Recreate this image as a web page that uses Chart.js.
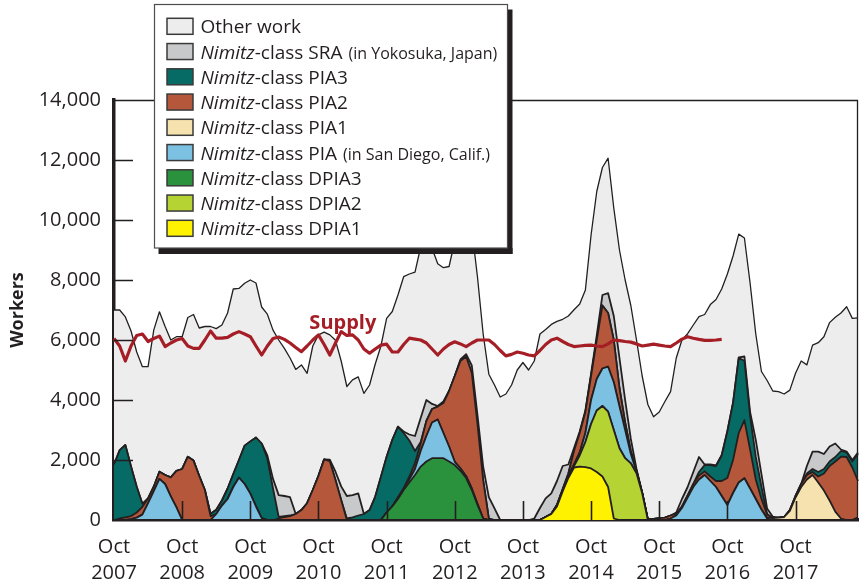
<!DOCTYPE html>
<html>
<head>
<meta charset="utf-8">
<script src="https://cdn.jsdelivr.net/npm/chart.js@4.4.1/dist/chart.umd.min.js"></script>
<style>
  html, body { margin: 0; padding: 0; background: #ffffff; }
  #wrap { width: 859px; height: 583px; position: relative; }
</style>
</head>
<body>
<div id="wrap"><canvas id="c" width="859" height="583"></canvas></div>
<script>
// ---------- categories / tick labels ----------
const monthNames = ['Oct','Nov','Dec','Jan','Feb','Mar','Apr','May','Jun','Jul','Aug','Sep'];
const tickYears = ['2007','2008','2009','2010','2011','2012','2013','2014','2015','2016','2017'];
const yTickValues = [0, 2000, 4000, 6000, 8000, 10000, 12000, 14000];

// ---------- series values (one row = Oct..Sep of one year) ----------
const totalWorkers = [
  7000, 7000, 6770, 6300, 5600, 5110, 5110, 6330, 6940, 6450, 6000, 6110,
  6110, 6750, 6850, 6400, 6450, 6450, 6380, 6500, 6900, 7700, 7720, 7890,
  8000, 7900, 7100, 6860, 6330, 6000, 5720, 5400, 5020, 5170, 4890, 5800,
  6170, 6260, 6170, 5990, 5300, 4450, 4670, 4770, 4220, 4500, 5200, 5800,
  6720, 6950, 7500, 8110, 8200, 8260, 9100, 9530, 9060, 8540, 8410, 8450,
  9300, 9980, 10310, 9700, 8100, 6200, 4860, 4500, 4100, 4200, 4500, 5000,
  5250, 5000, 5300, 6200, 6350, 6520, 6620, 6690, 6800, 7010, 7200, 7670,
  9500, 10950, 11750, 12060, 10400, 9000, 8000, 7150, 6000, 4800, 3850, 3440,
  3600, 3950, 4280, 5400, 6000, 6210, 6500, 6780, 6850, 7180, 7350, 7700,
  8200, 8800, 9530, 9400, 7900, 6200, 4950, 4650, 4300, 4280, 4200, 4330,
  4890, 5300, 5170, 5830, 5910, 6110, 6580, 6760, 6900, 7110, 6720, 6740
];
const supply = [
  6050, 5800, 5300, 5800, 6150, 6200, 5950, 6050, 6130, 5780, 5900, 6000,
  6050, 5800, 5720, 5720, 6000, 6300, 6060, 6060, 6090, 6200, 6280, 6200,
  6110, 5800, 5500, 5800, 6050, 6100, 6020, 5900, 5750, 5610, 5800, 6000,
  6170, 5850, 5500, 5900, 6280, 6150, 6170, 6000, 5700, 5560, 5700, 5830,
  5860, 5600, 5600, 5850, 6060, 6030, 6000, 5900, 5700, 5500, 5700, 5850,
  5940, 5870, 5780, 5900, 6000, 6000, 6000, 5850, 5650, 5470, 5520, 5600,
  5560, 5500, 5470, 5650, 5850, 6000, 6060, 5950, 5850, 5780, 5800, 5820,
  5830, 5800, 5780, 5870, 6000, 5980, 5950, 5930, 5870, 5800, 5830, 5860,
  5830, 5800, 5780, 5900, 6030, 6110, 6060, 6020, 5990, 5990, 6000, 6020,
  null, null, null, null, null, null, null, null, null, null, null, null,
  null, null, null, null, null, null, null, null, null, null, null, null
];
const dpia1 = [
  0,0,0,0,0,0,0,0,0,0,0,0,
  0,0,0,0,0,0,0,0,0,0,0,0,
  0,0,0,0,0,0,0,0,0,0,0,0,
  0,0,0,0,0,0,0,0,0,0,0,0,
  0,0,0,0,0,0,0,0,0,0,0,0,
  0,0,0,0,0,0,0,0,0,0,0,0,
  0,0,0,0,100,200,450,950,1400,1750,1780,1760,
  1720,1600,1450,1100,50,0,0,0,0,0,0,0,
  0,0,0,0,0,0,0,0,0,0,0,0,
  0,0,0,0,0,0,0,0,0,0,0,0,
  0,0,0,0,0,0,0,0,0,0,0,0
];
const dpia2 = [
  0,0,0,0,0,0,0,0,0,0,0,0,
  0,0,0,0,0,0,0,0,0,0,0,0,
  0,0,0,0,0,0,0,0,0,0,0,0,
  0,0,0,0,0,0,0,0,0,0,0,0,
  0,0,0,0,0,0,0,0,0,0,0,0,
  0,0,0,0,0,0,0,0,0,0,0,0,
  0,0,0,0,0,0,20,30,50,50,370,840,
  1480,2050,2350,2510,2950,2390,2060,1890,1560,890,0,0,
  0,0,0,0,0,0,0,0,0,0,0,0,
  0,0,0,0,0,0,0,0,0,0,0,0,
  0,0,0,0,0,0,0,0,0,0,0,0
];
const dpia3 = [
  0,0,0,0,0,0,0,0,0,0,0,0,
  0,0,0,0,0,0,0,0,0,0,0,0,
  0,0,0,0,0,0,0,0,0,0,0,0,
  0,0,0,0,0,0,0,0,0,0,0,0,
  250,450,700,1000,1250,1500,1780,1950,2060,2060,2060,1950,
  1830,1640,1400,1000,500,50,0,0,0,0,0,0,
  0,0,0,0,0,0,0,0,0,0,0,0,
  0,0,0,0,0,0,0,0,0,0,0,0,
  0,0,0,0,0,0,0,0,0,0,0,0,
  0,0,0,0,0,0,0,0,0,0,0,0,
  0,0,0,0,0,0,0,0,0,0,0,0
];
const pia = [
  0,0,0,30,80,180,560,960,1370,1200,790,420,
  0,0,0,0,0,0,200,480,700,1100,1410,1200,
  880,450,60,0,0,0,0,0,0,0,0,0,
  0,0,0,0,0,0,0,0,0,0,0,0,
  0,0,50,50,100,200,520,850,1190,1290,840,500,
  110,80,60,50,40,0,0,0,0,0,0,0,
  0,0,0,0,0,0,20,20,30,50,100,300,
  800,1050,1250,1500,1590,1400,940,310,50,10,0,0,
  0,0,50,150,400,750,1100,1350,1500,1300,1100,800,
  500,900,1250,1390,1050,700,350,50,0,0,0,0,
  0,0,0,0,0,0,0,0,0,0,0,80
];
const pia1 = [
  0,0,0,0,0,0,0,0,0,0,0,0,
  0,0,0,0,0,0,0,0,0,0,0,0,
  0,0,0,0,0,0,0,0,0,0,0,0,
  0,0,0,0,0,0,0,0,0,0,0,0,
  0,0,0,0,0,0,0,0,0,0,0,0,
  0,0,0,0,0,0,0,0,0,0,0,0,
  0,0,0,0,0,0,0,0,0,0,0,0,
  0,0,0,0,0,0,0,0,0,0,0,0,
  0,0,0,0,0,0,0,0,0,0,0,0,
  0,0,0,0,0,0,0,30,60,80,100,300,
  750,1100,1350,1500,1250,980,650,280,50,0,0,0
];
const pia2 = [
  0,50,90,100,170,260,160,150,240,300,630,1220,
  1700,2110,1980,1470,1000,130,0,0,0,0,0,0,
  0,0,0,0,0,50,100,130,200,330,560,1000,
  1470,2020,1960,1330,670,0,0,0,0,0,0,0,
  0,0,0,0,100,200,250,500,450,430,1000,1850,
  2860,3580,3990,3850,2660,1280,50,0,0,0,0,0,
  0,0,0,0,0,0,20,30,70,450,650,700,
  800,1300,2100,1790,1410,610,250,100,40,10,20,40,
  60,80,100,50,50,70,100,130,120,150,200,500,
  900,1100,1650,1940,1300,650,350,100,0,0,0,30,
  50,100,150,100,200,570,1150,1670,2060,2100,1750,1220
];
const pia3 = [
  1850,2280,2410,1650,860,100,0,0,0,0,0,0,
  0,0,0,0,0,80,140,170,350,430,590,1280,
  1740,2300,2490,2050,1050,50,30,20,0,0,0,0,
  0,0,0,0,0,50,90,150,200,330,780,1440,
  1860,2220,2360,1850,1200,400,50,0,0,0,0,0,
  0,0,0,0,0,0,0,0,0,0,0,0,
  0,0,0,0,0,0,0,0,0,0,0,0,
  0,0,0,0,0,0,0,0,0,0,0,0,
  0,0,0,0,0,0,0,120,210,380,500,850,
  1550,1900,2500,1980,1120,760,410,20,0,0,0,0,
  0,0,50,100,150,150,150,150,190,150,200,900
];
const sra = [
  0,0,0,0,0,0,0,0,0,0,0,0,
  0,0,0,0,0,0,0,0,0,0,0,0,
  0,0,0,100,320,730,670,610,0,0,0,0,
  0,0,50,280,450,750,740,740,0,0,0,0,
  0,0,0,50,200,500,800,700,170,20,50,0,
  0,50,80,250,300,450,710,390,0,0,0,0,
  0,0,50,400,620,690,790,770,300,100,50,50,
  80,150,350,660,800,1000,750,400,50,0,0,0,
  0,0,0,50,250,280,400,500,20,20,20,20,
  20,20,20,140,130,560,420,180,50,0,0,0,
  0,0,250,580,680,500,500,450,50,30,50,50
];

// ---------- labels & colours ----------
const FAM = '"Open Sans", "Noto Sans", sans-serif';
const INK = '#231f20';
const seriesLabels = [
  'Nimitz-class DPIA1', 'Nimitz-class DPIA2', 'Nimitz-class DPIA3',
  'Nimitz-class PIA (in San Diego, Calif.)', 'Nimitz-class PIA1', 'Nimitz-class PIA2',
  'Nimitz-class PIA3', 'Nimitz-class SRA (in Yokosuka, Japan)'
];
const seriesColors = ['#fff200', '#b6d334', '#2a923d', '#7cc0e2', '#f5e2ae', '#b5573a', '#066b65', '#c8c9cb'];
const otherLabel = 'Other work';
const otherColor = '#ededed';
const supplyLabel = 'Supply';
const supplyColor = '#a51e26';

const seriesData = [dpia1, dpia2, dpia3, pia, pia1, pia2, pia3, sra];

// categories Oct 2007 .. Sep 2018
const categories = [];
tickYears.forEach((y, k) => monthNames.forEach((mn, j) => {
  categories.push(mn + ' ' + (j < 3 ? y : String(Number(y) + 1)));
}));

// other work = the drawn total line minus the coloured bands beneath it
const otherWork = totalWorkers.map((t, i) => t - seriesData.reduce((s, arr) => s + arr[i], 0));

const datasets = seriesData.map((arr, k) => ({
  label: seriesLabels[k],
  data: arr,
  backgroundColor: seriesColors[k],
  borderColor: INK,
  borderWidth: 1.8,
  fill: k === 0 ? 'origin' : '-1',
  pointRadius: 0,
  tension: 0
}));
datasets.push({
  label: otherLabel, data: otherWork, backgroundColor: otherColor,
  borderColor: INK, borderWidth: 1.3, fill: '-1', pointRadius: 0, tension: 0
});
datasets.push({
  label: supplyLabel, data: supply, stack: 'supply', order: -1,
  borderColor: supplyColor, borderWidth: 3.2, fill: false, pointRadius: 0, tension: 0
});

// ---------- overlay plugin: inside ticks, frame, Supply text, legend ----------
function drawLegendLabel(ctx, text, x, y) {
  const m = text.match(/^(Nimitz)(-class [^(]*?)(\s*\(.*\))?$/);
  ctx.textAlign = 'left';
  ctx.textBaseline = 'alphabetic';
  ctx.fillStyle = INK;
  if (!m) { ctx.font = '19px ' + FAM; ctx.fillText(text, x, y); return; }
  ctx.font = 'italic 19px ' + FAM; ctx.fillText(m[1], x, y); x += ctx.measureText(m[1]).width;
  ctx.font = '19px ' + FAM; ctx.fillText(m[2], x, y); x += ctx.measureText(m[2]).width;
  if (m[3]) { ctx.font = '16px ' + FAM; ctx.fillText(m[3].trim(), x + 6, y); }
}

const overlay = {
  id: 'overlay',
  afterDatasetsDraw(chart) {
    const { ctx, chartArea: ca, scales: { x, y } } = chart;
    ctx.save();
    ctx.strokeStyle = INK;
    // frame (top & right)
    ctx.lineWidth = 1.3;
    ctx.beginPath();
    ctx.moveTo(ca.left, ca.top + 0.5);
    ctx.lineTo(ca.right - 0.5, ca.top + 0.5);
    ctx.lineTo(ca.right - 0.5, ca.bottom);
    ctx.stroke();
    // inside tick marks
    ctx.lineWidth = 1.6;
    ctx.beginPath();
    yTickValues.slice(1, -1).forEach(v => {
      const py = Math.round(y.getPixelForValue(v)) + 0.5;
      ctx.moveTo(ca.left, py); ctx.lineTo(ca.left + 19, py);
    });
    tickYears.forEach((yr, k) => {
      if (k === 0) return;
      const px = Math.round(x.getPixelForValue(k * 12)) + 0.5;
      ctx.moveTo(px, ca.bottom); ctx.lineTo(px, ca.bottom - 19);
    });
    ctx.stroke();
    // Supply label
    ctx.fillStyle = supplyColor;
    ctx.font = 'bold 20px ' + FAM;
    ctx.textAlign = 'left';
    ctx.textBaseline = 'alphabetic';
    ctx.fillText(supplyLabel, x.getPixelForValue(34.4), y.getPixelForValue(6370));
    ctx.restore();
  },
  afterDraw(chart) {
    const ctx = chart.ctx;
    ctx.save();
    const bx = 154.5, by = 4.5, bw = 353, bh = 243.5;
    // drop shadow
    ctx.fillStyle = INK;
    ctx.fillRect(bx + bw, by + 5, 5, bh + 1);
    ctx.fillRect(bx + 4, by + bh, bw + 1, 6);
    // box
    ctx.fillStyle = '#ffffff';
    ctx.fillRect(bx, by, bw, bh);
    ctx.strokeStyle = '#4d4d4f';
    ctx.lineWidth = 1.2;
    ctx.strokeRect(bx, by, bw, bh);
    // entries: top to bottom = reverse of stacking
    const names = [otherLabel].concat(seriesLabels.slice().reverse());
    const cols = [otherColor].concat(seriesColors.slice().reverse());
    names.forEach((nm, i) => {
      const cy = 26.3 + i * 25.25;
      ctx.fillStyle = cols[i];
      ctx.fillRect(167, cy - 8, 26, 16);
      ctx.strokeStyle = '#3a3a3a';
      ctx.lineWidth = 1.5;
      ctx.strokeRect(167, cy - 8, 26, 16);
      drawLegendLabel(ctx, nm, 200.5, cy + 7);
    });
    ctx.restore();
  }
};

Chart.defaults.font.family = FAM;
Chart.defaults.color = INK;

new Chart(document.getElementById('c'), {
  type: 'line',
  data: { labels: categories, datasets },
  plugins: [overlay],
  options: {
    responsive: false,
    animation: false,
    devicePixelRatio: 1,
    layout: { padding: { top: 100, right: 1, left: 0, bottom: 0 } },
    plugins: {
      legend: { display: false },
      tooltip: { enabled: false },
      filler: { propagate: false }
    },
    elements: { point: { radius: 0 }, line: { borderJoinStyle: 'round' } },
    scales: {
      x: {
        type: 'category',
        offset: false,
        grid: { display: false, drawTicks: false },
        border: { display: true, color: INK, width: 3.5 },
        ticks: {
          autoSkip: false, maxRotation: 0, minRotation: 0, padding: 15,
          color: INK, font: { size: 20, lineHeight: 1.27 },
          callback: (val, idx) => (idx % 12 === 0 ? [monthNames[0], tickYears[idx / 12]] : null)
        },
        afterFit: (s) => { s.height = 63; }
      },
      y: {
        stacked: true,
        min: 0, max: 14000,
        grid: { display: false, drawTicks: false },
        border: { display: true, color: INK, width: 3.5 },
        ticks: {
          stepSize: 2000, padding: 13, color: INK, font: { size: 20 },
          callback: (v) => Number(v).toLocaleString('en-US')
        },
        title: {
          display: true, text: 'Workers', color: INK,
          font: { size: 18, weight: 'bold' }, padding: { top: 7, bottom: 0 }
        },
        afterFit: (s) => { s.width = 114; }
      }
    }
  }
});
</script>
</body>
</html>
